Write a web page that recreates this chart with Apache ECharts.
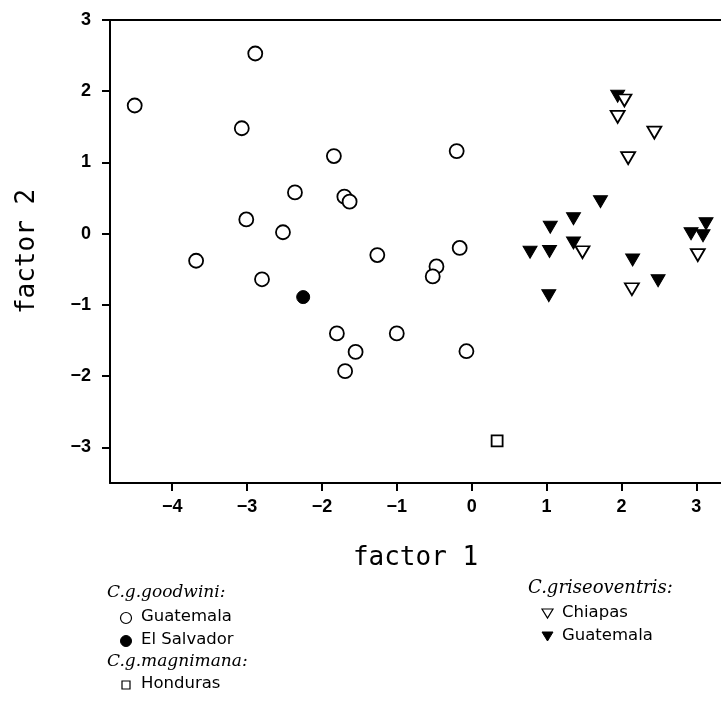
<!DOCTYPE html>
<html>
<head>
<meta charset="utf-8">
<script src="https://cdn.jsdelivr.net/npm/echarts@6/dist/echarts.min.js"></script>
<style>
html,body{margin:0;padding:0;background:#fff;}
#chart{width:721px;height:702px;}
</style>
</head>
<body>
<div id="chart"></div>
<script>
// ---- data (factor 1, factor 2) ----
const goodwiniGuatemalaX = [-2.89, -4.50, -3.07, -1.84, -2.36, -1.70, -1.63, -3.01, -2.52, -1.26, -3.68, -2.80, -1.80, -1.00, -1.55, -1.69, -0.20, -0.16, -0.47, -0.52, -0.07];
const goodwiniGuatemalaY = [2.53, 1.80, 1.48, 1.09, 0.58, 0.52, 0.45, 0.20, 0.02, -0.30, -0.38, -0.64, -1.40, -1.40, -1.66, -1.93, 1.16, -0.20, -0.46, -0.60, -1.65];
const goodwiniSalvadorX = [-2.25];
const goodwiniSalvadorY = [-0.89];
const magnimanaHondurasX = [0.34];
const magnimanaHondurasY = [-2.91];
const griseoChiapasX = [2.04, 1.95, 2.44, 2.09, 1.48, 2.14, 3.02];
const griseoChiapasY = [1.87, 1.64, 1.42, 1.06, -0.26, -0.78, -0.30];
const griseoGuatemalaX = [1.95, 1.72, 1.36, 1.05, 3.13, 2.93, 3.09, 1.36, 0.78, 1.04, 2.15, 1.03, 2.49];
const griseoGuatemalaY = [1.93, 0.45, 0.21, 0.09, 0.14, 0.00, -0.03, -0.13, -0.26, -0.25, -0.37, -0.87, -0.66];

const xTicks = [-4, -3, -2, -1, 0, 1, 2, 3];
const yTicks = [-3, -2, -1, 0, 1, 2, 3];
const xName = 'factor 1';
const yName = 'factor 2';

function pairs(xs, ys) { return xs.map((x, i) => [x, ys[i]]); }
function fmt(v) { return v < 0 ? '\u2212' + Math.abs(v) : String(v); }

const tickFont = { fontFamily: 'Liberation Sans', fontWeight: 'bold', fontSize: 18, color: '#000' };
const axisLineStyle = { color: '#000', width: 2 };

const chart = echarts.init(document.getElementById('chart'), null, { renderer: 'canvas' });

const legendFont = '16.5px "DejaVu Sans"';
const headFont = 'italic 17px "DejaVu Serif"';
const headFontWide = 'italic 18px "DejaVu Serif"';

const option = {
  backgroundColor: '#fff',
  animation: false,
  grid: { left: 110, right: 0, top: 20, bottom: 219, containLabel: false },
  xAxis: [{
    type: 'value', min: -4.83, max: 3.33, position: 'bottom',
    name: xName, nameLocation: 'middle', nameGap: 62,
    nameTextStyle: { fontFamily: 'DejaVu Sans Mono', fontSize: 26, color: '#000' },
    axisLine: { show: true, onZero: false, lineStyle: axisLineStyle },
    axisTick: { show: true, inside: false, length: 8, customValues: xTicks, lineStyle: { color: '#000', width: 2 } },
    axisLabel: { show: true, margin: 15, customValues: xTicks, formatter: fmt, ...tickFont },
    splitLine: { show: false }
  }, {
    type: 'value', min: -4.83, max: 3.33, position: 'top',
    axisLine: { show: true, onZero: false, lineStyle: axisLineStyle },
    axisTick: { show: false }, axisLabel: { show: false }, splitLine: { show: false }
  }],
  yAxis: {
    type: 'value', min: -3.5, max: 3, position: 'left',
    name: yName, nameLocation: 'middle', nameGap: 70,
    nameTextStyle: { fontFamily: 'DejaVu Sans Mono', fontSize: 26, color: '#000' },
    axisLine: { show: true, onZero: false, lineStyle: axisLineStyle },
    axisTick: { show: true, inside: false, length: 8, customValues: yTicks, lineStyle: { color: '#000', width: 2 } },
    axisLabel: { show: true, margin: 19, customValues: yTicks, formatter: fmt, ...tickFont },
    splitLine: { show: false }
  },
  series: [
    {
      name: 'C.g.goodwini Guatemala', type: 'scatter', data: pairs(goodwiniGuatemalaX, goodwiniGuatemalaY),
      symbol: 'circle', symbolSize: 14,
      itemStyle: { color: '#fff', borderColor: '#000', borderWidth: 1.8, opacity: 1 }
    },
    {
      name: 'C.g.goodwini El Salvador', type: 'scatter', data: pairs(goodwiniSalvadorX, goodwiniSalvadorY),
      symbol: 'circle', symbolSize: 13,
      itemStyle: { color: '#000', borderColor: '#000', borderWidth: 1, opacity: 1 }
    },
    {
      name: 'C.g.magnimana Honduras', type: 'scatter', data: pairs(magnimanaHondurasX, magnimanaHondurasY),
      symbol: 'rect', symbolSize: 11,
      itemStyle: { color: '#fff', borderColor: '#000', borderWidth: 1.8, opacity: 1 }
    },
    {
      name: 'C.griseoventris Guatemala', type: 'scatter', data: pairs(griseoGuatemalaX, griseoGuatemalaY),
      symbol: 'triangle', symbolSize: [14, 12], symbolRotate: 180,
      itemStyle: { color: '#000', borderColor: '#000', borderWidth: 1, opacity: 1 }
    },
    {
      name: 'C.griseoventris Chiapas', type: 'scatter', data: pairs(griseoChiapasX, griseoChiapasY),
      symbol: 'triangle', symbolSize: [14, 12], symbolRotate: 180,
      itemStyle: { color: '#fff', borderColor: '#000', borderWidth: 1.8, opacity: 1 }
    }
  ],
  graphic: [
    // left legend block
    { type: 'text', left: 107, top: 584, style: { text: 'C.g.goodwini:', font: headFont, fill: '#000' } },
    { type: 'circle', shape: { cx: 126, cy: 618, r: 5.5 }, style: { fill: '#fff', stroke: '#000', lineWidth: 1.2 } },
    { type: 'text', left: 141, top: 608, style: { text: 'Guatemala', font: legendFont, fill: '#000' } },
    { type: 'circle', shape: { cx: 126, cy: 641, r: 5.5 }, style: { fill: '#000', stroke: '#000', lineWidth: 1 } },
    { type: 'text', left: 141, top: 631, style: { text: 'El Salvador', font: legendFont, fill: '#000' } },
    { type: 'text', left: 107, top: 653, style: { text: 'C.g.magnimana:', font: headFont, fill: '#000' } },
    { type: 'rect', shape: { x: 122, y: 681, width: 8, height: 8 }, style: { fill: '#fff', stroke: '#000', lineWidth: 1.2 } },
    { type: 'text', left: 141, top: 675, style: { text: 'Honduras', font: legendFont, fill: '#000' } },
    // right legend block
    { type: 'text', left: 528, top: 579, style: { text: 'C.griseoventris:', font: headFontWide, fill: '#000' } },
    { type: 'polygon', shape: { points: [[542, 609], [553, 609], [547.5, 618]] }, style: { fill: '#fff', stroke: '#000', lineWidth: 1.2 } },
    { type: 'text', left: 562, top: 604, style: { text: 'Chiapas', font: legendFont, fill: '#000' } },
    { type: 'polygon', shape: { points: [[542, 632], [553, 632], [547.5, 641]] }, style: { fill: '#000', stroke: '#000', lineWidth: 1 } },
    { type: 'text', left: 562, top: 627, style: { text: 'Guatemala', font: legendFont, fill: '#000' } }
  ]
};
chart.setOption(option);
</script>
</body>
</html>
